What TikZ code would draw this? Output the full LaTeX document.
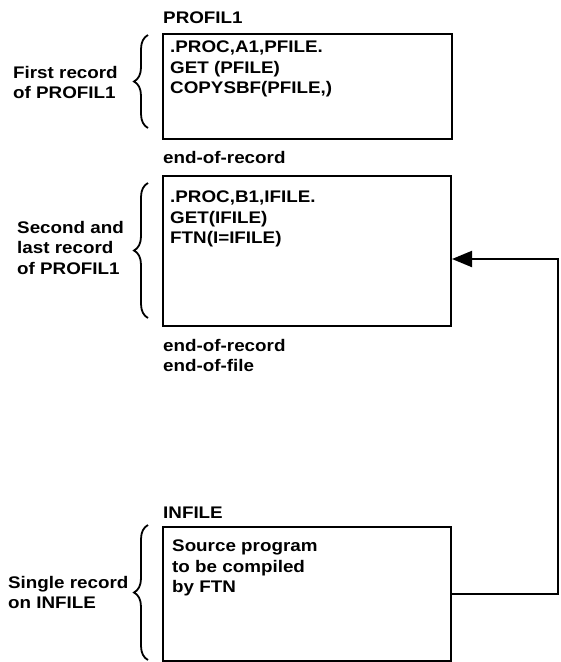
\documentclass[tikz,border=0pt]{standalone}
\usepackage{fontspec}
\setmainfont[FakeStretch=1.12]{Liberation Sans}
\usetikzlibrary{arrows.meta,decorations.pathreplacing}

\tikzset{
  recbox/.style={draw, line width=2pt, anchor=north west, inner sep=0pt},
  lines/.style={anchor=north west, align=left, inner sep=0pt,
    font=\bfseries\fontsize{16.8}{20.5}\selectfont},
  tag/.style={anchor=base west, inner sep=0pt, font=\bfseries\fontsize{16.8}{20.5}\selectfont},
  brc/.style={decorate, decoration={brace, amplitude=14pt}, line width=1.8pt},
}

\begin{document}
\begin{tikzpicture}[x=1pt, y=-1pt, >={Triangle[length=20pt,width=16pt]}]
\useasboundingbox (0,0) rectangle (561,662);

                % boxes of the two files
                \node[recbox, minimum width=289pt, minimum height=105pt] (rec1) at (162,33) {};
                \node[recbox, minimum width=288pt, minimum height=150pt] (rec2) at (162,175) {};
                \node[recbox, minimum width=288pt, minimum height=134pt] (infile) at (162,526) {};

                \node[lines] (rec1txt) at (170,41) {.PROC,A1,PFILE.\\GET (PFILE)\\COPYSBF(PFILE,)};
                \node[lines] (rec2txt) at (170,191) {.PROC,B1,IFILE.\\GET(IFILE)\\FTN(I=IFILE)};
                \node[lines] (srctxt) at (172,540) {Source program\\to be compiled\\by FTN};

                \node[tag] (prof) at (163,23) {PROFIL1};
                \node[tag] (eor1) at (163,163) {end-of-record};
                \node[tag] (eor2) at (163,351) {end-of-record};
                \node[tag] (eof) at (163,371) {end-of-file};
                \node[tag] (inname) at (163,518) {INFILE};

                % braces and their labels
                \draw[brc] (148,128) -- (148,35);
                \draw[brc] (148,318) -- (148,183);
                \draw[brc] (148,660) -- (148,525);

                \node[lines] (lab1) at (13,66) {First record\\of PROFIL1};
                \node[lines] (lab2) at (17,221) {Second and\\last record\\of PROFIL1};
                \node[lines] (lab3) at (8,576) {Single record\\on INFILE};

                % loop back from INFILE
                \coordinate (turn) at (558,259);
                \coordinate (entry) at (rec2.east |- turn);
                \draw[->, line width=2pt] (infile.east) -| (turn) -- (entry);

\end{tikzpicture}
\end{document}
